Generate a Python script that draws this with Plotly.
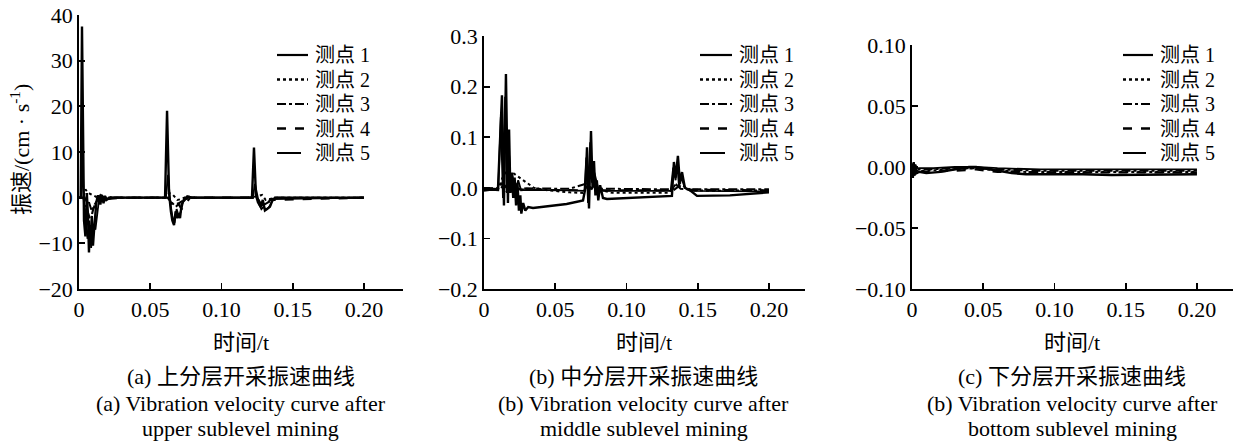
import plotly.graph_objects as go

# ---------------- data ----------------
series_names = ["测点 1", "测点 2", "测点 3", "测点 4", "测点 5"]
x_tick_vals = [0, 0.05, 0.10, 0.15, 0.20]
x_tick_text = ["0", "0.05", "0.10", "0.15", "0.20"]

ya_tick_vals = [40, 30, 20, 10, 0, -10, -20]
ya_tick_text = ["40", "30", "20", "10", "0", "−10", "−20"]
yb_tick_vals = [0.3, 0.2, 0.1, 0.0, -0.1, -0.2]
yb_tick_text = ["0.3", "0.2", "0.1", "0.0", "−0.1", "−0.2"]
yc_tick_vals = [0.10, 0.05, 0.0, -0.05, -0.10]
yc_tick_text = ["0.10", "0.05", "0.00", "−0.05", "−0.10"]

# panel (a) upper sublevel
t_a1 = [0, 0.0012, 0.0021, 0.0028, 0.0035, 0.0045, 0.0055, 0.0063, 0.0070, 0.0076, 0.0082, 0.0090,
        0.0098, 0.0106, 0.0114, 0.0122, 0.0133, 0.0142, 0.0150, 0.0160, 0.0172, 0.0182, 0.0192, 0.021,
        0.025, 0.04, 0.0604, 0.0618, 0.0632, 0.0645, 0.0655, 0.0667, 0.0678, 0.0690, 0.0700, 0.0709,
        0.0720, 0.0735, 0.0760, 0.0790, 0.10, 0.1214, 0.1228, 0.1242, 0.1256, 0.1275, 0.1290, 0.1305,
        0.1320, 0.1340, 0.1355, 0.1375, 0.16, 0.2]
v_a1 = [0, 0, 37.5, 4.0, -5.0, -8.5, 1.0, -4.0, -12.0, -6.0, -9.0, -4.0,
        -10.5, -7.0, -3.0, -1.0, 0.5, -0.8, -1.5, 0.6, -1.2, 0.4, -0.5, 0,
        0, 0, 0, 19.0, 1.0, -3.0, -5.0, -6.0, -3.0, -4.5, -3.5, -4.5,
        -1.5, -0.5, 0.3, 0, 0, 0, 11.0, 0.5, -1.0, -2.0, -0.5, -2.8,
        -2.5, -2.0, -0.8, 0, 0, 0]
t_a2 = [0, 0.003, 0.0045, 0.006, 0.008, 0.010, 0.012, 0.014, 0.017, 0.020, 0.025, 0.06, 0.0635,
        0.066, 0.069, 0.072, 0.076, 0.080, 0.12, 0.125, 0.1285, 0.131, 0.134, 0.138, 0.2]
v_a2 = [0, 0, 1.8, 1.2, 0.8, 0.5, 0.2, -0.6, -0.3, 0.2, 0, 0, 1.0,
        0.6, -0.5, -0.3, 0.3, 0, 0, 0.3, 0.6, -0.5, -0.3, 0, 0]
t_a3 = [0, 0.003, 0.005, 0.007, 0.009, 0.011, 0.013, 0.016, 0.020, 0.03, 0.062, 0.065, 0.068,
        0.071, 0.075, 0.08, 0.124, 0.127, 0.130, 0.133, 0.137, 0.2]
v_a3 = [0, 0, -2.0, -1.0, -3.0, -1.5, -0.5, 0.3, -0.3, 0, 0, -1.0, -2.0,
        -1.0, -0.3, 0, 0, -0.8, -1.5, -1.0, 0, 0]
t_a4 = [0, 0.004, 0.006, 0.008, 0.010, 0.012, 0.015, 0.018, 0.022, 0.03, 0.063, 0.066, 0.069,
        0.072, 0.078, 0.125, 0.128, 0.131, 0.134, 0.2]
v_a4 = [0, 0, -3.0, -5.0, -2.5, -1.0, 0.5, -0.5, 0, 0, 0, -2.0, -1.0,
        -2.5, 0, 0, -1.5, -2.2, -0.5, 0]
t_a5 = [0, 0.0015, 0.0025, 0.0035, 0.0048, 0.0060, 0.0072, 0.0085, 0.0095, 0.0105, 0.0115, 0.0128,
        0.014, 0.016, 0.019, 0.024, 0.061, 0.0625, 0.064, 0.0655, 0.067, 0.0685, 0.070, 0.0715,
        0.073, 0.076, 0.122, 0.1235, 0.1265, 0.128, 0.1295, 0.131, 0.133, 0.1345, 0.136, 0.2]
v_a5 = [0, 0, 8.0, -2.0, -6.0, -9.0, -5.0, -11.0, -8.0, -6.0, -7.0, -3.0,
        -0.5, 0.5, -0.5, 0, 0, 5.0, -1.0, -4.0, -5.5, -2.5, -4.0, -3.0,
        -1.0, 0, 0, 3.0, -1.5, -2.5, -2.0, -2.6, -2.2, -1.5, -0.3, 0]

# panel (b) middle sublevel
t_b1 = [0, 0.0040, 0.0098, 0.0126, 0.0140, 0.0154, 0.0168, 0.0176, 0.0185, 0.0195, 0.0205, 0.0215,
        0.0225, 0.0235, 0.0245, 0.0255, 0.0262, 0.0275, 0.0290, 0.0310, 0.0344, 0.045, 0.058, 0.0695,
        0.0712, 0.0723, 0.0737, 0.0751, 0.0762, 0.0772, 0.0782, 0.0792, 0.0802, 0.0815, 0.0835, 0.0863,
        0.095, 0.11, 0.125, 0.1319, 0.1333, 0.1345, 0.1361, 0.1375, 0.1390, 0.1410, 0.1446, 0.1495,
        0.1726, 0.2]
v_b1 = [-0.003, -0.002, -0.003, 0.183, -0.035, 0.225, -0.030, 0.115, -0.010, 0.030, -0.020, 0.020,
        -0.035, 0.010, -0.045, -0.015, -0.051, -0.030, -0.045, -0.038, -0.040, -0.037, -0.032, -0.025,
        0.000, 0.080, -0.041, 0.112, 0.000, 0.053, -0.015, 0.015, -0.025, 0.005, -0.020, -0.022,
        -0.021, -0.019, -0.017, -0.016, 0.051, 0.020, 0.063, 0.010, 0.031, 0.000, -0.005, -0.016,
        -0.015, -0.009]
t_b2 = [0, 0.010, 0.013, 0.016, 0.020, 0.025, 0.030, 0.035, 0.045, 0.060, 0.0695, 0.073, 0.076,
        0.079, 0.083, 0.090, 0.110, 0.130, 0.134, 0.137, 0.141, 0.146, 0.160, 0.2]
v_b2 = [-0.002, -0.002, 0.020, 0.035, 0.030, 0.020, 0.010, 0.000, -0.005, -0.009, -0.010, 0.010, 0.015,
        0.005, -0.005, -0.010, -0.010, -0.010, 0.005, 0.010, 0.002, -0.005, -0.006, -0.005]
t_b3 = [0, 0.010, 0.013, 0.016, 0.019, 0.023, 0.030, 0.060, 0.0715, 0.074, 0.077, 0.081, 0.090,
        0.132, 0.135, 0.138, 0.142, 0.2]
v_b3 = [-0.001, -0.001, 0.010, -0.008, 0.006, -0.002, -0.001, -0.002, 0.008, -0.006, 0.004, -0.002, -0.002,
        -0.003, 0.006, -0.002, -0.003, -0.003]
t_b4 = [0, 0.011, 0.014, 0.018, 0.024, 0.035, 0.070, 0.073, 0.077, 0.082, 0.133, 0.137, 0.142, 0.2]
v_b4 = [-0.004, -0.004, 0.006, -0.006, -0.003, -0.004, -0.005, 0.004, -0.004, -0.005, -0.005, 0.004, -0.004, -0.005]
t_b5 = [0, 0.005, 0.010, 0.0118, 0.0133, 0.0148, 0.0160, 0.0172, 0.0188, 0.020, 0.022, 0.024, 0.026,
        0.030, 0.060, 0.0705, 0.0718, 0.0730, 0.0745, 0.0758, 0.0775, 0.080, 0.084, 0.100, 0.131,
        0.1328, 0.1345, 0.1355, 0.1368, 0.1385, 0.1410, 0.1450, 0.2]
v_b5 = [-0.006, -0.004, -0.005, 0.140, -0.020, 0.180, -0.010, 0.090, 0.000, 0.025, -0.010, 0.015, -0.005,
        -0.004, -0.005, -0.006, 0.060, -0.030, 0.090, 0.010, 0.030, 0.000, -0.006, -0.006, -0.006,
        0.040, 0.015, 0.050, 0.005, 0.020, 0.000, -0.006, -0.007]

# panel (c) bottom sublevel
t_c1 = [0, 0.0006, 0.0012, 0.0018, 0.0024, 0.0032, 0.005, 0.010, 0.020, 0.030, 0.040, 0.045, 0.050,
        0.060, 0.070, 0.080, 0.090, 0.100, 0.120, 0.140, 0.160, 0.180, 0.2]
v_c1 = [0.002, -0.009, 0.004, -0.007, 0.002, -0.005, -0.004, -0.005, -0.004, -0.002, 0.000, 0.000, -0.001,
        -0.003, -0.005, -0.006, -0.006, -0.0055, -0.006, -0.0065, -0.0065, -0.006, -0.006]
t_c2 = [0, 0.001, 0.002, 0.003, 0.010, 0.030, 0.045, 0.060, 0.080, 0.100, 0.130, 0.160, 0.2]
v_c2 = [0.001, -0.006, 0.002, -0.003, -0.003, -0.002, -0.001, -0.003, -0.004, -0.004, -0.004, -0.004, -0.004]
t_c3 = [0, 0.0015, 0.003, 0.010, 0.030, 0.045, 0.060, 0.090, 0.120, 0.150, 0.2]
v_c3 = [0.000, -0.005, -0.002, -0.002, -0.001, -0.001, -0.002, -0.003, -0.003, -0.003, -0.003]
t_c4 = [0, 0.001, 0.0025, 0.010, 0.030, 0.045, 0.060, 0.090, 0.120, 0.150, 0.2]
v_c4 = [-0.001, -0.007, -0.003, -0.004, -0.003, -0.002, -0.004, -0.0045, -0.0045, -0.0045, -0.0045]
t_c5 = [0, 0.0008, 0.002, 0.004, 0.015, 0.030, 0.045, 0.060, 0.090, 0.120, 0.150, 0.2]
v_c5 = [0.003, -0.004, 0.001, -0.001, -0.001, 0.000, 0.000, -0.001, -0.002, -0.002, -0.002, -0.002]

panel_a = [(t_a1, v_a1), (t_a2, v_a2), (t_a3, v_a3), (t_a4, v_a4), (t_a5, v_a5)]
panel_b = [(t_b1, v_b1), (t_b2, v_b2), (t_b3, v_b3), (t_b4, v_b4), (t_b5, v_b5)]
panel_c = [(t_c1, v_c1), (t_c2, v_c2), (t_c3, v_c3), (t_c4, v_c4), (t_c5, v_c5)]

# ---------------- styling ----------------
W, H = 1235, 448
FONT = "Liberation Serif, Times New Roman, Noto Sans CJK SC, serif"
CJK = "Liberation Serif, Noto Sans CJK SC, serif"
dashes = ["solid", "dot", "dashdot", "dash", "solid"]
widths = [2.4, 2.0, 2.0, 2.2, 1.8]
key_widths = [2.2, 2.4, 2.2, 2.6, 2.0]


def px_x(p):
    return p / W


def px_y(p):
    return 1 - p / H


fig = go.Figure()

panels = [
    # data, axis suffix, x px range, y top px, x range max, y range
    (panel_a, "", (79, 403), 15, 0.2274, [-20, 40]),
    (panel_b, "2", (484, 805), 36, 0.2253, [-0.2, 0.3]),
    (panel_c, "3", (912, 1233), 45, 0.2253, [-0.1, 0.1]),
]
ytick_sets = [(ya_tick_vals, ya_tick_text), (yb_tick_vals, yb_tick_text), (yc_tick_vals, yc_tick_text)]
legend_key_px = [(277, 308), (700, 732), (1123, 1153)]
legend_rows_px = [55, 79.5, 104, 128.5, 153]

for i, (data, suf, (x0, x1), ytop, xmax, yr) in enumerate(panels):
    for j, (t, v) in enumerate(data):
        fig.add_trace(go.Scatter(
            x=t, y=v, mode="lines", name=series_names[j],
            line=dict(color="black", width=widths[j], dash=dashes[j]),
            xaxis="x" + suf, yaxis="y" + suf, showlegend=False, hoverinfo="skip"))
    axis_common = dict(showline=True, linecolor="black", linewidth=1.8, ticks="inside",
                       ticklen=6, tickwidth=1.8, tickcolor="black", showgrid=False, zeroline=False,
                       automargin=False,
                       tickfont=dict(family=FONT, size=22, color="black"))
    fig.update_layout(**{
        "xaxis" + suf: dict(domain=[px_x(x0), px_x(x1)], range=[0, xmax], anchor="y" + suf,
                            tickvals=x_tick_vals, ticktext=x_tick_text, **axis_common),
        "yaxis" + suf: dict(domain=[px_y(289), px_y(ytop)], range=yr, anchor="x" + suf,
                            tickvals=ytick_sets[i][0], ticktext=ytick_sets[i][1], **axis_common),
    })
    # legend (key lines + labels)
    kx0, kx1 = legend_key_px[i]
    for j, ry in enumerate(legend_rows_px):
        fig.add_shape(type="line", xref="paper", yref="paper",
                      x0=px_x(kx0), x1=px_x(kx1 if j < 4 else kx1 - 7), y0=px_y(ry), y1=px_y(ry),
                      line=dict(color="black", width=key_widths[j], dash=dashes[j]))
        fig.add_annotation(text=series_names[j], x=px_x(kx1 + 5), y=px_y(ry), xref="paper", yref="paper",
                           xanchor="left", yanchor="middle", showarrow=False,
                           font=dict(family=CJK, size=20, color="black"))

# axis titles and captions
captions = [
    ("(a) 上分层开采振速曲线", "(a) Vibration velocity curve after", "upper sublevel mining"),
    ("(b) 中分层开采振速曲线", "(b) Vibration velocity curve after", "middle sublevel mining"),
    ("(c) 下分层开采振速曲线", "(b) Vibration velocity curve after", "bottom sublevel mining"),
]
centers = [241, 644, 1072]
for c, (l1, l2, l3) in zip(centers, captions):
    for txt, yp in [("时间/t", 342), (l1, 376), (l2, 403), (l3, 428)]:
        fig.add_annotation(text=txt, x=px_x(c), y=px_y(yp), xref="paper", yref="paper",
                           xanchor="center", yanchor="middle", showarrow=False,
                           font=dict(family=CJK, size=22, color="black"))

fig.add_annotation(text="振速/(cm · s<sup>-1</sup>)", x=px_x(20), y=px_y(150), xref="paper", yref="paper",
                   xanchor="center", yanchor="middle", textangle=-90, showarrow=False,
                   font=dict(family=CJK, size=22, color="black"))

fig.update_layout(width=W, height=H, margin=dict(l=0, r=0, t=0, b=0, autoexpand=False),
                  paper_bgcolor="white", plot_bgcolor="white", showlegend=False, hovermode=False)

fig.write_html("out.html", config={"displayModeBar": False, "staticPlot": True},
               post_script="document.body.style.margin='0';document.body.style.overflow='hidden';")
